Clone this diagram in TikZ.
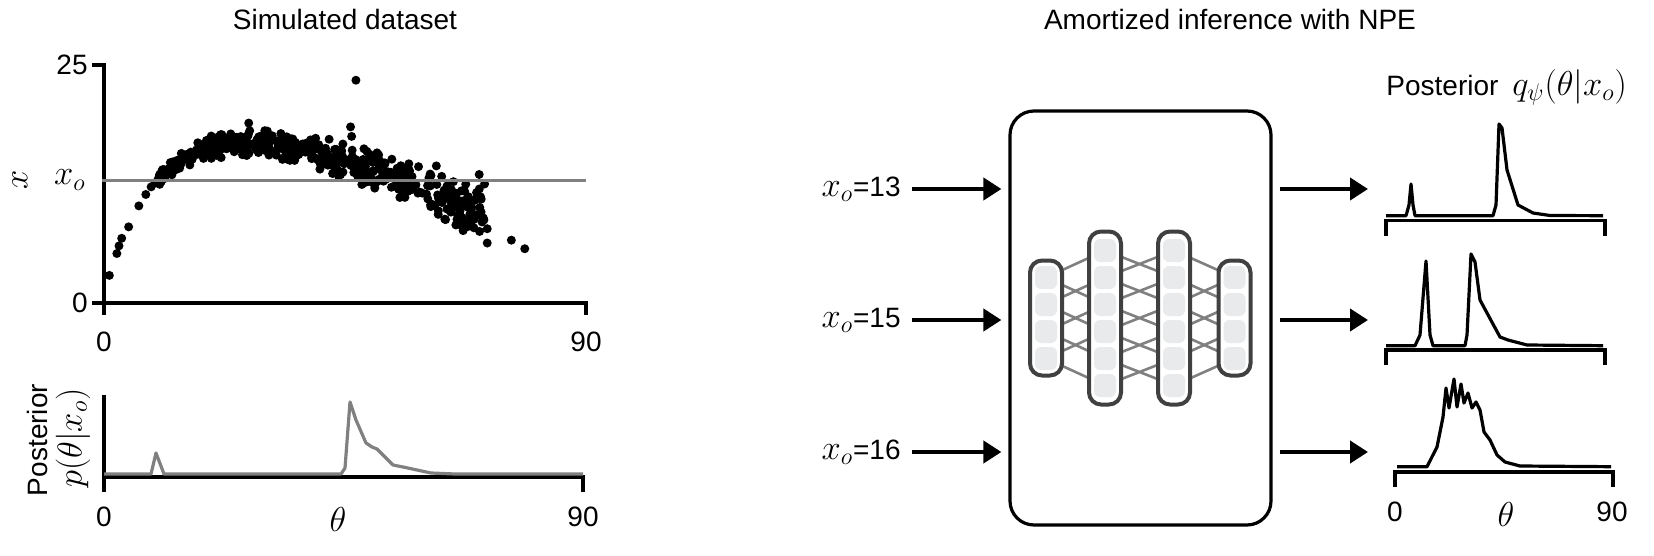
\documentclass[tikz,border=0pt]{standalone}
\usepackage{fontspec}
\setmainfont{Liberation Sans}
\usetikzlibrary{arrows.meta,positioning}
\definecolor{netgray}{HTML}{404040}
\definecolor{cellgray}{HTML}{E8EAEB}
\definecolor{postgray}{HTML}{808080}
\newcommand{\mathlbl}[1]{{\fontsize{17}{19}\selectfont$#1$}}
\tikzset{
  axis/.style={line width=1.6pt,line cap=rect},
  lbl/.style={font=\fontsize{14}{16}\selectfont,inner sep=0pt},
  flow/.style={line width=2pt,-{Triangle[length=9pt,width=11pt]}},
  layer/.style={draw=netgray,fill=white,line width=2pt,rounded corners=6pt,minimum width=16pt,inner sep=0pt},
  cell/.style={fill=cellgray,rounded corners=3pt,minimum width=11pt,minimum height=11.5pt,inner sep=0pt},
  wire/.style={draw=postgray,line width=1.3pt},
  dens/.style={line width=1.6pt,line join=round},
}
\begin{document}
\begin{tikzpicture}[x=0.5pt,y=-0.5pt]
\useasboundingbox (0,0) rectangle (1654,556);

% Titles
\node[lbl] (tsim) at (345,19) {Simulated dataset};
\node[lbl] (tnpe) at (1230,19) {Amortized inference with NPE};

%Scatter axes
\draw[axis] (94,65) -- (104,65) -- (104,313);
\draw[axis] (94,303) -- (586,303) -- (586,313);
\node[lbl,anchor=east] (y25) at (88,65) {25};
\node[lbl,anchor=east] (y0) at (88,303) {0};
\node[lbl] (xs0) at (104,342) {0};
\node[lbl] (xs90) at (586,342) {90};
\node[lbl,rotate=90] (xlab) at (20,180) {\mathlbl{x}};
\node[lbl] (xolab) at (70,180) {\mathlbl{x_o}};

%Scatter points
\pgfmathsetseed{11}
\foreach \i in {1,...,470}{
  \pgfmathsetmacro\t{10+61*rnd}
  \pgfmathsetmacro\v{19*(1-exp(-\t/9))-0.0021*\t*\t+(rnd+rnd-0.8)*(0.6+\t/30)}
  \fill (104+5.36*\t,303-9.52*\v) circle[radius=2.25pt];
}
\foreach \t/\v in {1/2.9,2.4/5.2,2.8/6.0,3.3/6.8,4.6/8.0,6.5/10.2,7.8/11.4,8.8/12.2,9.5/12.6,
  47/23.4,46/18.5,46.2/17.5,48.5/16.2,65/11.5,65.5/10.3,66/9.2,66.5/8.2,67/7.6,64/12.3,
  68.5/8.5,69/7.9,71.5/7.8,71.5/6.3,76/6.6,78.5/5.7,61/13.4,62/14.4,63/13.3,69.5/11.6,71/12.5,70/13.5,
  38/16.5,42/17.2,30/18.1,27/18.9,33/17.8}
  \fill (104+5.36*\t,303-9.52*\v) circle[radius=2.25pt];

%x_o line
\draw[postgray,line width=1.5pt] (xolab.east) ++(16,0) -- (586,180);

%Posterior axes
\draw[axis] (104,397) -- (104,490);
\draw[axis] (104,477) -- (583,477) -- (583,490);
\node[lbl] (xp0) at (104,517) {0};
\node[lbl] (xp90) at (583,517) {90};
\node[lbl] (xpth) at (338,519) {\mathlbl{\theta}};
\node[lbl,rotate=90] (plab) at (37,440) {Posterior};
\node[lbl,rotate=90] (pdens) at (73,438) {\mathlbl{p(\theta|x_o)}};
\draw[postgray,dens] (104,474) -- (151,474) -- (156,453) -- (164,474) -- (341,474) -- (345,468) -- (350,402)
  -- (356,420) -- (366,443) -- (372,447) -- (377,449) -- (393,465) -- (403,467) -- (431,473) -- (455,474) -- (583,474);

%NPE box
\node[draw,line width=1.6pt,rounded corners=12pt,minimum width=130.5pt,minimum height=207pt] (npe) at (1140.5,318) {};

%Network
\foreach \l/\c/\n in {1/1046/4,2/1105/6,3/1174/6,4/1234.5/4}{
  \foreach \k in {1,...,\n}
    \coordinate (c\l-\k) at (\c,318+27*\k-13.5*\n-13.5);
}
\foreach \i in {1,...,4}{
  \pgfmathtruncatemacro\j{\i+2}
  \draw[wire] (c1-\i) -- (c2-\i) (c1-\i) -- (c2-\j) (c4-\i) -- (c3-\i) (c4-\i) -- (c3-\j);
}
\foreach \i in {1,...,5}{
  \pgfmathtruncatemacro\j{\i+1}
  \draw[wire] (c2-\i) -- (c3-\j) (c2-\j) -- (c3-\i);
}
\foreach \l/\c/\n/\h in {1/1046/4/57.5,2/1105/6/86.5,3/1174/6/86.5,4/1234.5/4/57.5}{
  \node[layer,minimum height=\h pt] (layer\l) at (\c,318) {};
  \foreach \k in {1,...,\n}
    \node[cell] (cell\l-\k) at (c\l-\k) {};
}

%Inputs and outputs
\foreach \v/\y in {13/189,15/320,16/452}{
  \node[lbl,anchor=east] (in\v) at (901,\y) {\mathlbl{x_o}=\v};
  \draw[flow,shorten <=5.5pt,shorten >=3.5pt] (in\v.east) -- (npe.west |- in\v.east);
  \coordinate (out\v) at (1368,\y);
  \draw[flow,shorten <=3.5pt] (npe.east |- out\v) -- (out\v);
}

%Posterior plots
\node[lbl,anchor=west] (qtitle) at (1386,87) {Posterior\enspace\mathlbl{q_\psi(\theta|x_o)}};
\draw[axis] (1386,234) -- (1386,220.7) -- (1605,220.7) -- (1605,234);
\draw[dens] (1386,215.7) -- (1406,215.7) -- (1409,205) -- (1411,184) -- (1413,205) -- (1415,215.7) -- (1493,215.7)
  -- (1496,205) -- (1499,124) -- (1502,128) -- (1507,170) -- (1518,205) -- (1533,213) -- (1550,215.5) -- (1603,215.7);
\draw[axis] (1386,363) -- (1386,350) -- (1605,350) -- (1605,363);
\draw[dens] (1386,345.7) -- (1415,345.7) -- (1420,335) -- (1426,261) -- (1430,335) -- (1433,345.7) -- (1465,345.7)
  -- (1467,335) -- (1471,254) -- (1475,262) -- (1480,300) -- (1487,313) -- (1500,337) -- (1508,340) -- (1527,345) -- (1603,345.7);
\draw[axis] (1395,485) -- (1395,472) -- (1613,472) -- (1613,485);
\draw[dens] (1397,466.7) -- (1427,466.7) -- (1437,447) -- (1443,417) -- (1446,388) -- (1449,408) -- (1454,379)
  -- (1457,407) -- (1461,384) -- (1464,403) -- (1468,393) -- (1472,408) -- (1476,402) -- (1480,410) -- (1484,432)
  -- (1490,440) -- (1497,455) -- (1505,462) -- (1520,466) -- (1611,466.7);
\node[lbl] (xq0) at (1395,512) {0};
\node[lbl] (xqth) at (1506,514) {\mathlbl{\theta}};
\node[lbl] (xq90) at (1612,512) {90};

\end{tikzpicture}
\end{document}
